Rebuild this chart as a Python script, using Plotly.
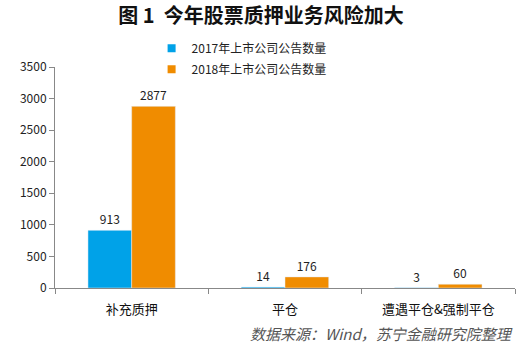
import plotly.graph_objects as go

categories = ["补充质押", "平仓", "遭遇平仓&强制平仓"]
series_2017 = [913, 14, 3]
series_2018 = [2877, 176, 60]
name_2017 = "2017年上市公司公告数量"
name_2018 = "2018年上市公司公告数量"
title = "图 1  今年股票质押业务风险加大"
source = "数据来源：Wind，苏宁金融研究院整理"

FONT = "Noto Sans CJK SC"
BLUE = "#00A2E8"
ORANGE = "#F08C00"

fig = go.Figure()
for name, vals, col in [(name_2017, series_2017, BLUE), (name_2018, series_2018, ORANGE)]:
    fig.add_trace(go.Bar(x=categories, y=vals, name=name, marker_color=col,
                         text=vals, textposition="outside", cliponaxis=False,
                         textfont=dict(size=12, color="#222"), showlegend=False,
                         legendgroup=name))
for name, col in [(name_2017, BLUE), (name_2018, ORANGE)]:
    fig.add_trace(go.Scatter(x=[None], y=[None], mode="markers", name=name,
                             marker=dict(symbol="square", size=8, color=col),
                             legendgroup=name, showlegend=True))

fig.update_layout(
    width=522, height=349,
    margin=dict(l=55, r=7, t=67, b=61),
    paper_bgcolor="white", plot_bgcolor="white",
    font=dict(family=FONT, size=12, color="#222"),
    barmode="group", bargap=0.43, bargroupgap=0,
    showlegend=True,
    legend=dict(x=0.21, y=1.15, xanchor="left", yanchor="top", orientation="v",
                font=dict(size=12, color="#222"), bgcolor="rgba(0,0,0,0)",
                itemwidth=30, tracegroupgap=2),
    title=dict(text="<b>" + title + "</b>", x=0.5, xanchor="center", y=0.955, yanchor="middle",
               font=dict(size=20, color="#111", family=FONT)),
)
fig.update_yaxes(range=[0, 3500], dtick=500, showgrid=False, showline=True, linecolor="#888",
                 ticks="outside", ticklen=5, tickcolor="#888", zeroline=False,
                 tickfont=dict(size=12, color="#222"))
fig.update_xaxes(showgrid=False, showline=True, linecolor="#888", ticks="outside", ticklen=5,
                 tickcolor="#888", tickson="boundaries", ticklabelstandoff=9,
                 tickfont=dict(size=13, color="#111"))

fig.add_annotation(text="<i>" + source + "</i>", xref="paper", yref="paper", x=1.0, y=-0.205,
                   xanchor="right", yanchor="middle", showarrow=False,
                   font=dict(size=15, color="#555", family=FONT))

fig.write_html("out.html")
